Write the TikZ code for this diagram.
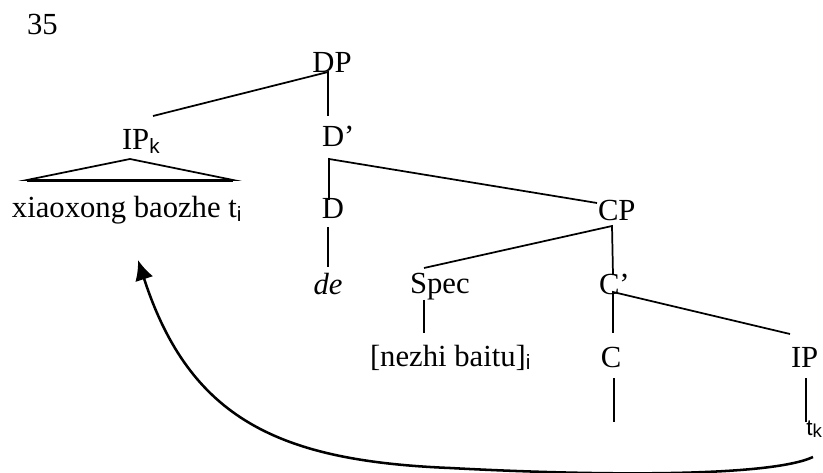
\documentclass[tikz,border=0pt]{standalone}
\usepackage{fontspec}
\setmainfont{Liberation Serif}
\setsansfont{Liberation Sans}
\usetikzlibrary{calc,arrows.meta}
\newcommand\sbs[1]{\raisebox{-0.25ex}{\fontsize{15.5}{18}\sffamily #1}}
\begin{document}
\begin{tikzpicture}[x=0.75pt,y=-0.75pt,
  lbl/.style={inner sep=0pt,outer sep=0pt,font=\fontsize{23}{27}\selectfont},
  br/.style={line width=1.3pt},
  mv/.style={line width=1.9pt,-{Latex[length=15pt,width=14pt]}}]
\useasboundingbox (0,0) rectangle (823,473);
% labels
\node[lbl,anchor=base west] (n35) at (27,35) {35};
\node[lbl,anchor=base] (DP) at (332,73) {DP};
\node[lbl,anchor=base west] (IPk) at (122,150) {IP\sbs{k}};
\node[lbl,anchor=base west] (Dbar) at (322,147) {D’};
\node[lbl,anchor=base west] (txt) at (12,218) {xiaoxong baozhe t\sbs{i}};
\node[lbl,anchor=base] (D) at (333,219) {D};
\node[lbl,anchor=base west] (CP) at (598,221) {CP};
\node[lbl,anchor=base] (de) at (328,295) {\itshape de};
\node[lbl,anchor=base west] (Spec) at (410,294) {Spec};
\node[lbl,anchor=base west] (Cbar) at (599,295) {C’};
\node[lbl,anchor=base west] (nezhi) at (370,366) {[nezhi baitu]\sbs{i}};
\node[lbl,anchor=base] (C) at (611,367) {C};
\node[lbl,anchor=base west] (IP) at (791,367) {IP};
\node[inner sep=0pt,anchor=base west,font=\fontsize{17}{20}\selectfont\sffamily] (tk) at (806,435) {t\raisebox{-0.2ex}{\fontsize{14}{16}\selectfont k}};
\coordinate (Cempty) at (614,422);
\coordinate (tip) at (138,260);
% branches
\draw[br] ($(IPk.base west)+(31,-34)$) -- ($(DP.base)+(-4,-1)$) -- ($(Dbar.base west)+(6,-31)$);
\draw[br] ($(D.base)+(-4,-19)$) -- ($(Dbar.base west)+(7,12)$) -- ($(CP.base west)+(-1,-18)$);
\draw[br] ($(D.base)+(-5,8)$) -- ($(de.base)+(0,-28)$);
\draw[br] ($(Spec.base west)+(14,-26)$) -- ($(CP.base west)+(14,5)$) -- ($(Cbar.base west)+(14,-20)$);
\draw[br] ($(Spec.base west)+(14,6)$) -- ($(nezhi.base west)+(54,-33)$);
\draw[br] ($(C.base)+(2,-34)$) -- ($(Cbar.base west)+(14,-3)$) -- ($(IP.base west)+(-1,-33)$);
\draw[br] ($(C.base)+(3,11)$) -- (Cempty);
\draw[br] ($(IP.base west)+(15,11)$) -- ($(tk.base west)+(0,-13)$);
% triangle
\draw[br,line join=miter] ($(IPk.base west)+(8,9)$) -- ($(txt.base west)+(221,-38)$) -- ($(txt.base west)+(15,-38)$) -- cycle;
\draw[line width=1.7pt] ($(txt.base west)+(15,-37)$) -- ($(txt.base west)+(221,-37)$);
% movement arrow
\draw[mv] ($(tk.base west)+(7,22)$) .. controls (770,477) and (600,476) .. (450,468)
  .. controls (280,461) and (190,420) .. (tip);
\end{tikzpicture}
\end{document}
